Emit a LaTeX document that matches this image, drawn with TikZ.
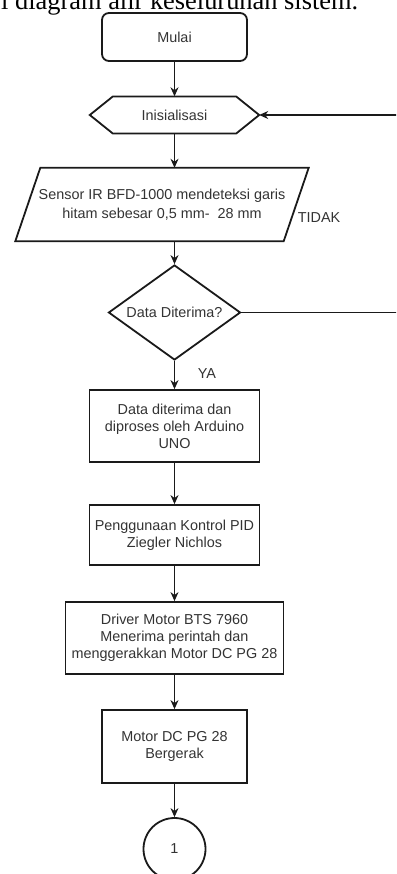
\documentclass[tikz,border=0pt]{standalone}
\usepackage{fontspec}
\setmainfont{Liberation Sans}
\newfontfamily\titlefont{Liberation Serif}
\usetikzlibrary{arrows.meta,shapes.geometric,calc}
\definecolor{txt}{HTML}{333333}
\definecolor{ln}{HTML}{1A1A1A}
\begin{document}
\begin{tikzpicture}[x=1pt,y=-1pt,
  every node/.style={font=\fontsize{14.4}{17}\selectfont,text=txt,align=center,inner sep=0pt},
  box/.style={draw=ln,line width=1.8pt,rectangle},
  shapeline/.style={draw=ln,line width=1.8pt,line join=miter},
  arr/.style={draw=ln,line width=1.2pt,-{Stealth[length=9pt,width=8pt]}},
  plain/.style={draw=ln,line width=1.2pt}]
\useasboundingbox (0,0) rectangle (396,874);
\clip (0,0) rectangle (396,874);
% cut-off caption at top
\node[anchor=base west,font=\titlefont\fontsize{26.4}{30}\selectfont,text=black] (cap) at (1,9.5) {l diagram alir keseluruhan sistem.};
% Mulai
\node[box,rounded corners=7pt,minimum width=145pt,minimum height=48pt] (mulai) at (174.5,37) {Mulai};
% Inisialisasi (hexagon)
\node[minimum width=169pt,minimum height=37pt] (init) at (174.5,115) {Inisialisasi};
\draw[shapeline] (init.west) -- ++(23,-18.5) -- ($(init.east)+(-23,-18.5)$) -- (init.east) -- ($(init.east)+(-23,18.5)$) -- ($(init.west)+(23,18.5)$) -- cycle;
% Sensor (parallelogram)
\node[minimum width=268pt,minimum height=73pt,font=\fontsize{14.4}{19}\selectfont] (sensor) at (162,204.5) {Sensor IR BFD-1000 mendeteksi garis\\hitam sebesar 0,5 mm-\ \ 28 mm};
\draw[shapeline] ($(sensor.south west)+(-12.5,0)$) -- ($(sensor.north west)+(12.5,0)$) -- ($(sensor.north east)+(12.5,0)$) -- ($(sensor.south east)+(-12.5,0)$) -- cycle;
% Decision
\node[shapeline,diamond,minimum width=132pt,minimum height=95pt,aspect=1.39] (dec) at (174.5,312.5) {Data Diterima?};
% Process boxes
\node[box,minimum width=170pt,minimum height=72pt] (p1) at (174.5,426) {Data diterima dan\\diproses oleh Arduino\\UNO};
\node[box,minimum width=170pt,minimum height=60pt] (p2) at (174.5,535) {Penggunaan Kontrol PID\\Ziegler Nichlos};
\node[box,minimum width=218pt,minimum height=72pt] (p3) at (174.5,638) {Driver Motor BTS 7960\\Menerima perintah dan\\menggerakkan Motor DC PG 28};
\node[box,minimum width=145pt,minimum height=73pt] (p4) at (174.5,746.5) {Motor DC PG 28\\Bergerak};
% Connector circle
\node[shapeline,circle,minimum size=62pt] (c1) at (174.5,849) {1};
% Labels
\node (tidak) at (319,218) {TIDAK};
\node (ya) at (207,374) {YA};
% Free ends of the loop (off to the right)
\coordinate (loopin) at (397,115);
\coordinate (loopout) at (397,312.5);
% Connectors
\draw[arr] (mulai.south) -- (init.north);
\draw[arr] (init.south) -- (init.south |- sensor.north);
\draw[arr] (sensor.south -| dec.north) -- (dec.north);
\draw[arr] (dec.south) -- (p1.north);
\draw[arr] (p1.south) -- (p2.north);
\draw[arr] (p2.south) -- (p3.north);
\draw[arr] (p3.south) -- (p4.north);
\draw[arr] (p4.south) -- (c1.north);
\draw[plain] (dec.east) -- (loopout);
\draw[arr] (loopin) -- (init.east);
\end{tikzpicture}
\end{document}
